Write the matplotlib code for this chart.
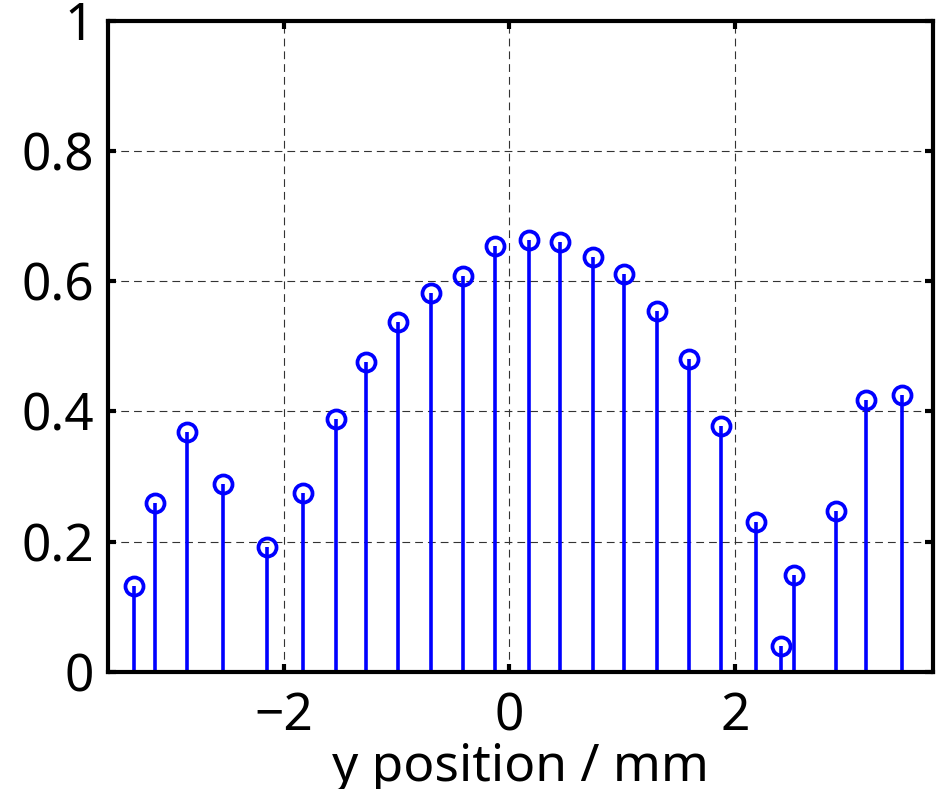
import numpy as np
import matplotlib
matplotlib.use("Agg")
import matplotlib.pyplot as plt

plt.rcParams['font.family'] = ['Noto Sans', 'DejaVu Sans']

## stem positions (mm) and normalised amplitudes
y_pos = [-3.329, -3.143, -2.860, -2.537, -2.147, -1.828, -1.533, -1.270,
         -0.984, -0.697, -0.410, -0.124, 0.180, 0.452, 0.742, 1.022,
         1.309, 1.598, 1.879, 2.186, 2.410, 2.523, 2.898, 3.164, 3.485]
amp = [0.131, 0.259, 0.368, 0.288, 0.192, 0.275, 0.388, 0.476,
       0.537, 0.582, 0.608, 0.654, 0.663, 0.660, 0.638, 0.611,
       0.554, 0.480, 0.378, 0.230, 0.040, 0.148, 0.247, 0.417, 0.425]

xticks = [-2, 0, 2]
yticks = [0, 0.2, 0.4, 0.6, 0.8, 1]
ytick_labels = ["0", "0.2", "0.4", "0.6", "0.8", "1"]

fig = plt.figure(figsize=(9.41, 7.89), dpi=100)
ax = fig.add_axes([0.1148, 0.1487, 0.8764, 0.8247])

blue = (0, 0, 1)
markers, stems, base = ax.stem(y_pos, amp, basefmt=" ")
plt.setp(stems, color=blue, linewidth=2.6)
plt.setp(markers, marker="o", markersize=13, markerfacecolor="none",
         markeredgecolor=blue, markeredgewidth=2.7)

ax.set_xlim(-3.556, 3.755)
ax.set_ylim(0, 1)
ax.set_xticks(xticks)
ax.set_xticklabels(["\u22122", "0", "2"])
ax.set_yticks(yticks)
ax.set_yticklabels(ytick_labels)

ax.grid(True, color="#333333", linewidth=0.8, linestyle=(0, (7, 4.5)))
ax.set_axisbelow(True)

for s in ax.spines.values():
    s.set_linewidth(3)
ax.tick_params(direction="in", length=6, width=3, top=True, right=True,
               labelsize=37, pad=10)
ax.tick_params(axis="x", pad=14)

ax.set_xlabel("y position / mm", fontsize=37, labelpad=0)

fig.savefig("out.png", dpi=100)
